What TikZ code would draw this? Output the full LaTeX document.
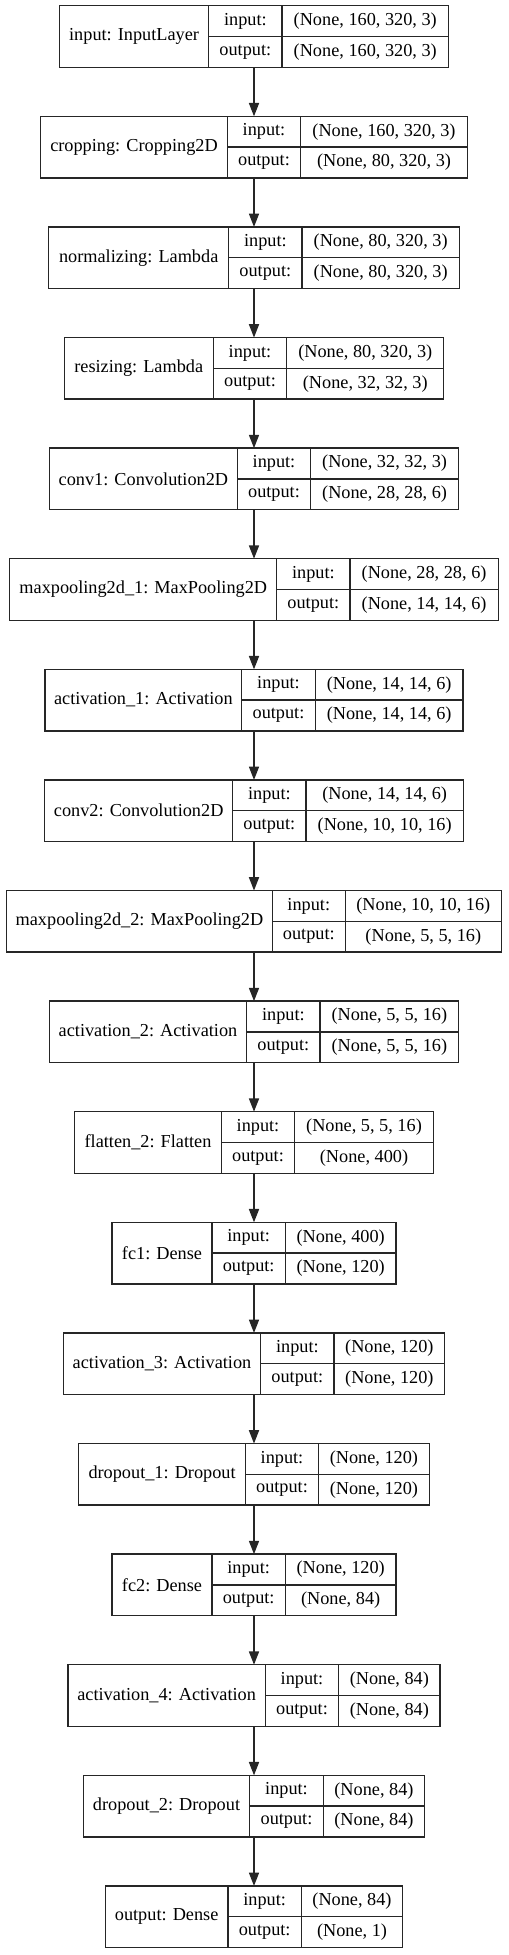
\documentclass[tikz,border=0pt]{standalone}
\usepackage{fontspec}
\setmainfont{Liberation Serif}
\usetikzlibrary{arrows.meta}
\tikzset{
  ln/.style={draw=black!85, line width=0.95pt},
  box/.style={ln, rectangle, inner sep=0pt, outer sep=0pt, fill=white},
  txt/.style={inner sep=0pt, font=\fontsize{13.7}{16}\selectfont, text=black},
  arr/.style={draw=black!85, line width=0.95pt, -{Triangle[length=10pt,width=7.6pt]}},
}
\newcommand\layer[9]{%
  \pgfmathsetmacro\T{5.7+110.6*#1}%
  \pgfmathsetmacro\B{\T+61.6}%
  \pgfmathsetmacro\M{\T+30.8}%
  \node[box, minimum width={(#5-#2)*0.75pt}, minimum height={61.6*0.75pt}] (n#1) at (254,\M) {};
  \draw[ln] (#3,\T) -- (#3,\B) (#4,\T) -- (#4,\B) (#3,\M) -- ({254+(#5-#2)/2},\M);
  \node[txt] (n#1name) at ({(254-(#5-#2)/2+#3)/2},\M) {#6};
  \node[txt] (n#1il) at ({(#3+#4)/2},{\T+15.4}) {input:};
  \node[txt] (n#1ol) at ({(#3+#4)/2},{\T+46.2}) {output:};
  \node[txt] (n#1iv) at ({(#4+254+(#5-#2)/2)/2},{\T+15.4}) {#7};
  \node[txt] (n#1ov) at ({(#4+254+(#5-#2)/2)/2},{\T+46.2}) {#8};
}
\begin{document}
\begin{tikzpicture}[x=0.75pt,y=-0.75pt]
\useasboundingbox (0,0) rectangle (508,1955);
\layer{0}{59.3}{208.7}{282}{448.3}{input: InputLayer}{(None, 160, 320, 3)}{(None, 160, 320, 3)}{}
\layer{1}{40.7}{227.3}{300.7}{467.3}{cropping: Cropping2D}{(None, 160, 320, 3)}{(None, 80, 320, 3)}{}
\layer{2}{48.7}{228.7}{302}{459.3}{normalizing: Lambda}{(None, 80, 320, 3)}{(None, 80, 320, 3)}{}
\layer{3}{64}{213.3}{286.7}{443.7}{resizing: Lambda}{(None, 80, 320, 3)}{(None, 32, 32, 3)}{}
\layer{4}{49.3}{237.3}{310.7}{458.3}{conv1: Convolution2D}{(None, 32, 32, 3)}{(None, 28, 28, 6)}{}
\layer{5}{10}{276.7}{350}{498.3}{maxpooling2d\_1: MaxPooling2D}{(None, 28, 28, 6)}{(None, 14, 14, 6)}{}
\layer{6}{44.7}{241.7}{315.3}{462.7}{activation\_1: Activation}{(None, 14, 14, 6)}{(None, 14, 14, 6)}{}
\layer{7}{44.7}{232.7}{306}{463.3}{conv2: Convolution2D}{(None, 14, 14, 6)}{(None, 10, 10, 16)}{}
\layer{8}{5.3}{272.3}{345.3}{500}{maxpooling2d\_2: MaxPooling2D}{(None, 10, 10, 16)}{(None, 5, 5, 16)}{}
\layer{9}{49.3}{246.7}{320}{458.7}{activation\_2: Activation}{(None, 5, 5, 16)}{(None, 5, 5, 16)}{}
\layer{10}{74.7}{221.3}{294.7}{433.3}{flatten\_2: Flatten}{(None, 5, 5, 16)}{(None, 400)}{}
\layer{11}{112}{212}{285.3}{396}{fc1: Dense}{(None, 400)}{(None, 120)}{}
\layer{12}{63.3}{260.7}{334}{444.7}{activation\_3: Activation}{(None, 120)}{(None, 120)}{}
\layer{13}{78.7}{245.3}{318.7}{429}{dropout\_1: Dropout}{(None, 120)}{(None, 120)}{}
\layer{14}{112}{212}{285.3}{396}{fc2: Dense}{(None, 120)}{(None, 84)}{}
\layer{15}{68}{265.3}{338.7}{440}{activation\_4: Activation}{(None, 84)}{(None, 84)}{}
\layer{16}{83}{249.7}{323.3}{424.3}{dropout\_2: Dropout}{(None, 84)}{(None, 84)}{}
\layer{17}{105.3}{228}{301.3}{402.7}{output: Dense}{(None, 84)}{(None, 1)}{}
\foreach \i [evaluate=\i as \j using int(\i+1)] in {0,...,16}
  \draw[arr] (n\i.south) -- (n\j.north);
\end{tikzpicture}
\end{document}
